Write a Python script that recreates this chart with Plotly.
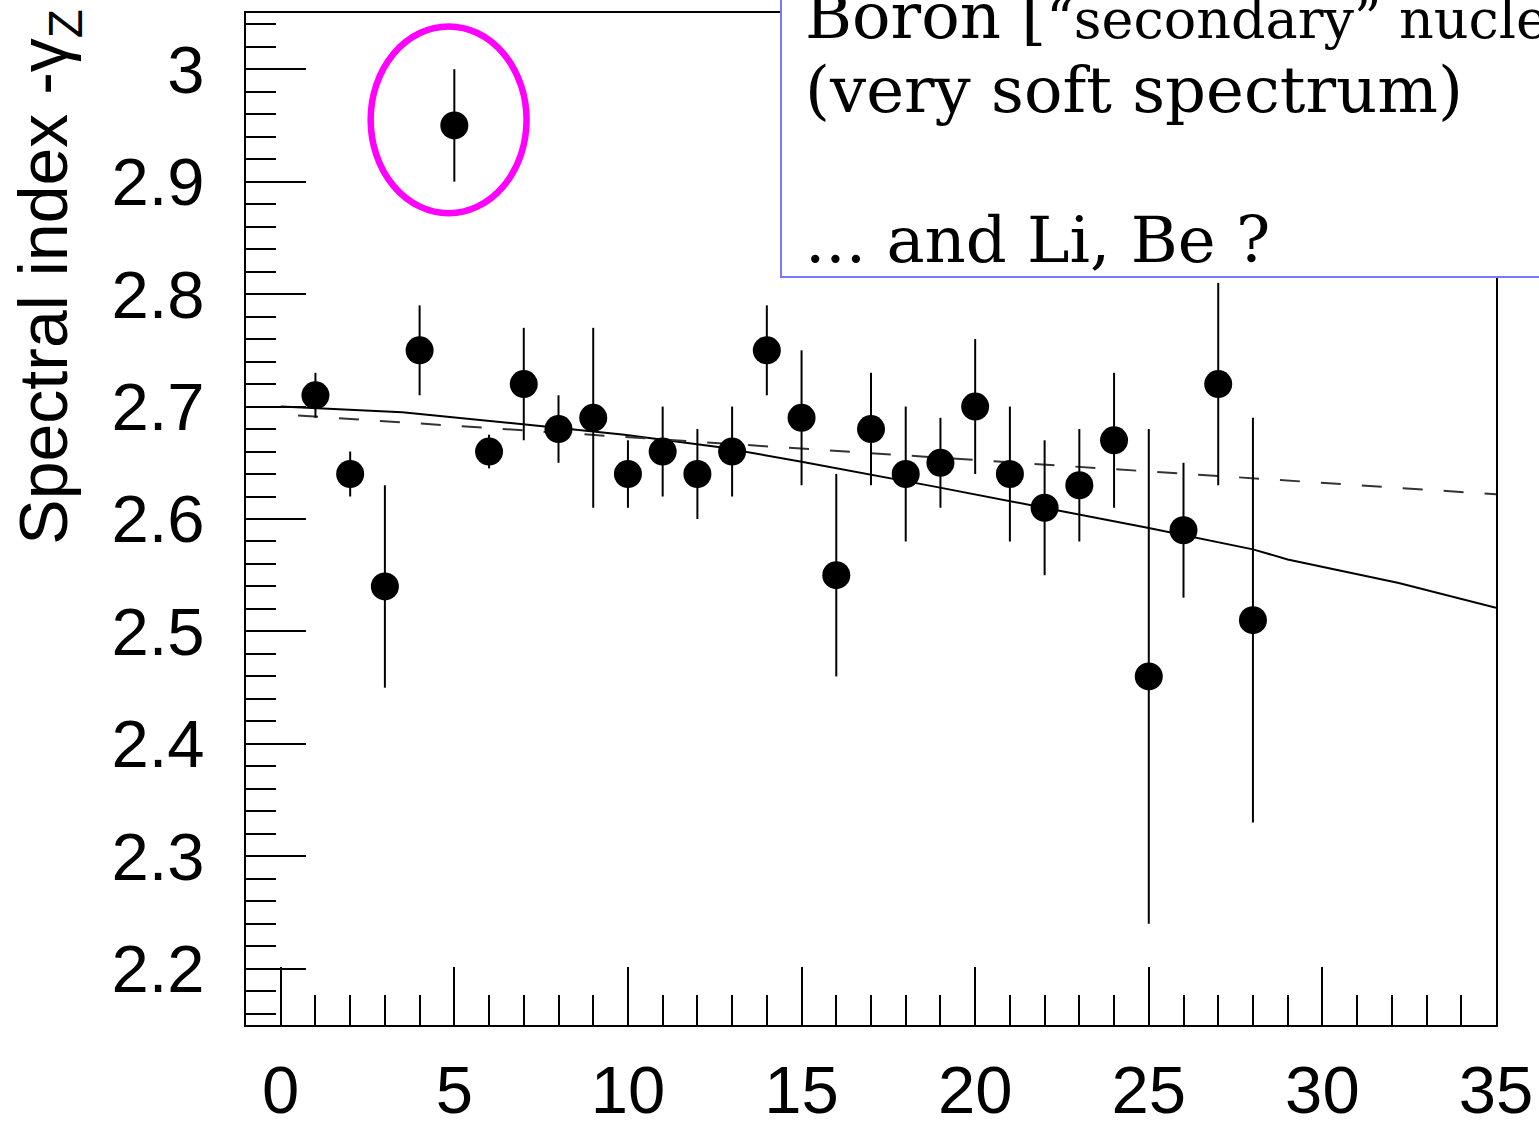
import plotly.graph_objects as go

# ---- data ----
charge_z = list(range(1, 29))
spectral_index = [2.71, 2.64, 2.54, 2.75, 2.95, 2.66, 2.72, 2.68, 2.69, 2.64,
                  2.66, 2.64, 2.66, 2.75, 2.69, 2.55, 2.68, 2.64, 2.65, 2.70,
                  2.64, 2.61, 2.63, 2.67, 2.46, 2.59, 2.72, 2.51]
index_err = [0.02, 0.02, 0.09, 0.04, 0.05, 0.015, 0.05, 0.03, 0.08, 0.03,
             0.04, 0.04, 0.04, 0.04, 0.06, 0.09, 0.05, 0.06, 0.04, 0.06,
             0.06, 0.06, 0.05, 0.06, 0.22, 0.06, 0.09, 0.18]

model_solid_x = [0, 3.5, 7.4, 9.9, 12.6, 15, 18.8, 21.7, 25, 28, 29, 32.2, 35]
model_solid_y = [2.700, 2.695, 2.683, 2.675, 2.664, 2.651, 2.629, 2.612,
                 2.592, 2.573, 2.564, 2.543, 2.521]

model_dash_x = [0.5, 35]
model_dash_y = [2.692, 2.622]

x_tick_vals = [0, 5, 10, 15, 20, 25, 30, 35]
y_tick_vals = [2.2, 2.3, 2.4, 2.5, 2.6, 2.7, 2.8, 2.9, 3.0]
y_tick_text = ["2.2", "2.3", "2.4", "2.5", "2.6", "2.7", "2.8", "2.9", "3"]

y_title = "Spectral index -γ<sub>Z</sub>"
box_lines = ["Boron [<span style='font-size:54px'>“secondary” nuclei]</span>",
             "(very soft spectrum)",
             "... and Li, Be ?"]

# ---- figure ----
fig = go.Figure()

fig.add_trace(go.Scatter(
    x=model_solid_x, y=model_solid_y, mode="lines",
    line=dict(color="black", width=2), showlegend=False, hoverinfo="skip"))

fig.add_trace(go.Scatter(
    x=model_dash_x, y=model_dash_y, mode="lines",
    line=dict(color="#333333", width=2, dash="20px,21px"),
    showlegend=False, hoverinfo="skip"))

fig.add_trace(go.Scatter(
    x=charge_z, y=spectral_index, mode="markers",
    marker=dict(color="black", size=28),
    error_y=dict(type="data", array=index_err, color="black",
                 thickness=2, width=0),
    showlegend=False))

axis_font = dict(family="Liberation Sans, Arial, sans-serif", size=67,
                 color="black")

fig.update_layout(
    width=1539, height=1122,
    margin=dict(l=246, r=43, t=13, b=97, autoexpand=False),
    paper_bgcolor="white", plot_bgcolor="white",
    xaxis=dict(
        range=[-1, 35], showgrid=False, zeroline=False, automargin=False,
        showline=True, linecolor="black", linewidth=2, mirror=True,
        ticks="inside", ticklen=58, tickwidth=2, tickcolor="black",
        tickvals=x_tick_vals, tickfont=axis_font, ticklabelstandoff=6,
        minor=dict(ticks="inside", ticklen=30, tickwidth=2,
                   tickcolor="black", dtick=1, tick0=0, showgrid=False),
    ),
    yaxis=dict(
        range=[2.15, 3.05], showgrid=False, zeroline=False, automargin=False,
        showline=True, linecolor="black", linewidth=2, mirror=True,
        ticks="inside", ticklen=60, tickwidth=2, tickcolor="black",
        tickvals=y_tick_vals, ticktext=y_tick_text, tickfont=axis_font,
        ticklabelstandoff=26,
        minor=dict(ticks="inside", ticklen=30, tickwidth=2,
                   tickcolor="black", dtick=0.02, tick0=2.2, showgrid=False),
    ),
)

# highlight ellipse around Z=5
fig.add_shape(type="circle", xref="x", yref="y",
              x0=2.59, x1=7.08, y0=2.872, y1=3.038,
              line=dict(color="#ff00ff", width=6.5), layer="above")

# text box (white, blue border) covering top right
fig.add_shape(type="rect", xref="paper", yref="paper",
              x0=0.428, x1=1.2, y0=0.7391, y1=1.2,
              fillcolor="white", line=dict(color="rgb(120,120,255)", width=2),
              layer="above")

serif = dict(family="DejaVu Serif, serif", size=64, color="black")
for txt, yp in zip(box_lines, [0.9966, 0.9236, 0.7756]):
    fig.add_annotation(text=txt, xref="paper", yref="paper", x=0.4456, y=yp,
                       xanchor="left", yanchor="middle", showarrow=False,
                       font=serif)

fig.add_annotation(text=y_title, xref="paper", yref="paper",
                   x=-0.158, y=0.739, xanchor="center", yanchor="middle",
                   textangle=-90, showarrow=False,
                   font=dict(family="Liberation Sans, Arial, sans-serif",
                             size=68, color="black"))

fig.write_html("out.html")
